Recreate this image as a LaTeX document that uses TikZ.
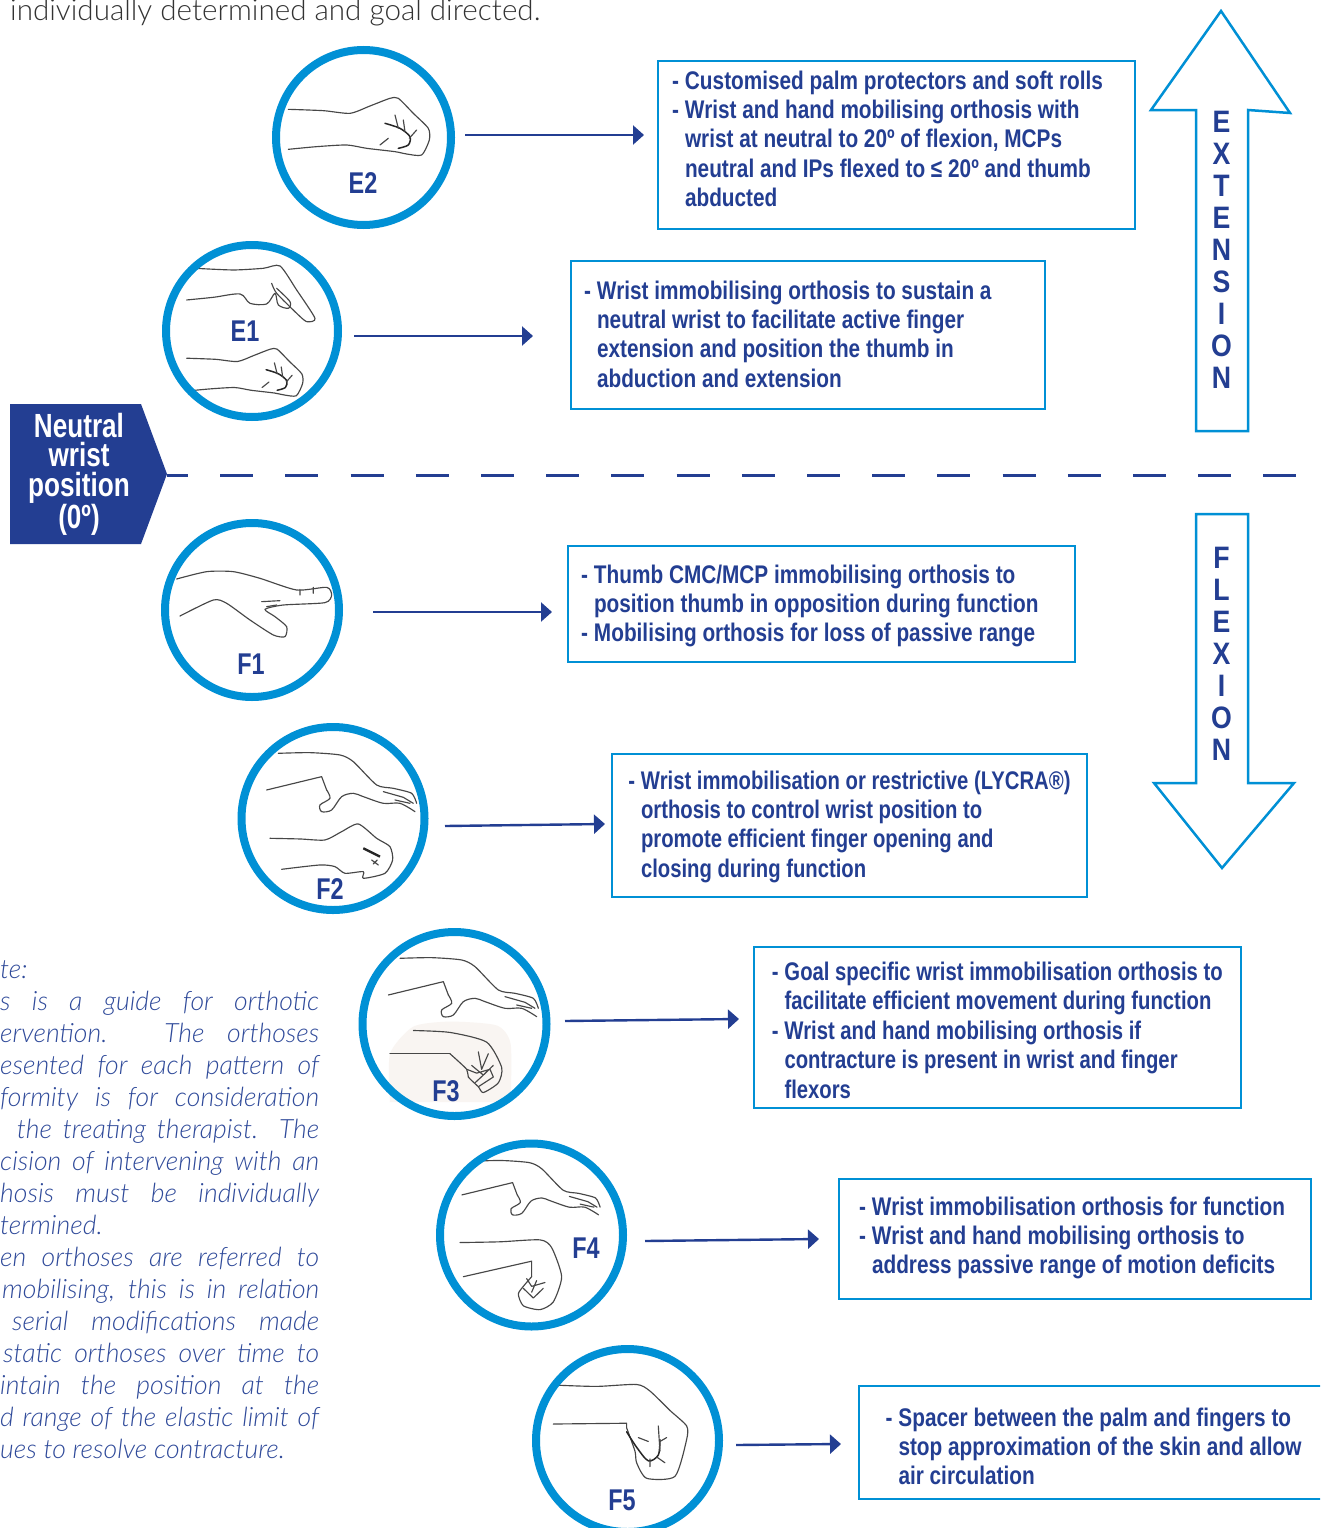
\documentclass[tikz,border=0pt]{standalone}
\usepackage{fontspec}
\usetikzlibrary{arrows.meta}
\newfontfamily\condf{Liberation Sans}[FakeStretch=0.815]
\newfontfamily\condg{Liberation Sans}[FakeStretch=0.795]
\newfontfamily\tagf{Liberation Sans}[FakeStretch=0.78]
\newfontfamily\letterf{Liberation Sans}[FakeStretch=0.86]
\newfontfamily\notef{Lato}[ItalicFont={Lato Light Italic},UprightFont={Lato Light}]
\definecolor{navy}{HTML}{233E92}
\definecolor{skyb}{HTML}{0090D5}
\definecolor{notec}{HTML}{2F4A9A}
\definecolor{patch}{HTML}{F9F5F2}
\newcommand{\dsh}{\llap{-\hspace{6pt}}}
\newcommand{\boxtext}[6]{\parbox[c][#2pt][t]{#1pt}{\vspace*{\dimexpr#3pt-20pt\relax}\leftskip=#4pt\relax\parindent=0pt\baselineskip=#5pt\relax\rule{0pt}{20pt}#6}}
\newcommand{\nl}[1]{\makebox[319pt][s]{#1}\\}
\tikzset{
  x=1pt,y=-1pt,
  obox/.style={draw=skyb,line width=2.5pt,rectangle,inner sep=0pt,outer sep=0pt,anchor=north west,text=navy,font=\condf\bfseries\fontsize{25.5}{29.4}\selectfont},
  oboxg/.style={obox,font=\condg\bfseries\fontsize{25.5}{29.4}\selectfont},
  ring/.style={circle,draw=skyb,line width=8pt,inner sep=0pt,outer sep=0pt,minimum size=#1},
  tag/.style={text=navy,inner sep=0pt,font=\tagf\bfseries\fontsize{30}{30}\selectfont},
  arr/.style={draw=navy,line width=2.4pt,-{Triangle[length=11pt,width=19pt]}},
  bigarrow/.style={draw=skyb,line width=2.5pt,fill=white,line join=miter},
  hl/.style={draw=black!72,line width=1.15pt,line cap=round,line join=round},
  hlt/.style={draw=black!85,line width=1.5pt,line cap=round,line join=round},
  zmA/.style={shift={(150,30)},scale=.3333},
  zmB/.style={shift={(150,510)},scale=.3333},
  zmC/.style={shift={(350,920)},xscale=.3333,yscale=.3877},
  fisthand/.pic={
    \draw[hl] plot[smooth,tension=.4] coordinates{(415,238)(520,242)(600,250)(660,228)(720,205)(745,205)(790,250)(835,295)(838,330)(815,375)(770,372)(735,365)(650,355)(590,345)(500,350)(415,358)};
    \draw[hlt] plot[smooth,tension=.5] coordinates{(705,280)(750,295)(780,320)(775,345)(745,355)};
    \draw[hl] (735,255)--(745,295) (800,300)--(778,325) (760,270)--(765,305) (690,345)--(715,325);
  },
  droophand/.pic={
    \draw[hl] plot[smooth,tension=.4] coordinates{(385,730)(480,728)(570,735)(610,755)(680,825)(730,835)(785,850)(800,880)};
    \draw[hl] (350,840)--(515,800)--(530,840);
    \draw[hl] plot[smooth,tension=.5] coordinates{(530,840)(540,865)(510,885)(515,905)(545,900)(575,860)(610,850)(640,860)(700,880)(750,880)(795,905)};
    \draw[hl] (700,845)--(760,862)--(790,880) (735,870)--(780,880);
  }
}
\begin{document}
\begin{tikzpicture}
\clip (0,0) rectangle (1320,1528);
\fill[white] (0,0) rectangle (1320,1528);

% header fragment
\node[anchor=base west,inner sep=0pt,text=black!80,font=\notef\fontsize{29.6}{30}\selectfont] (head) at (10,21) {individually determined and goal directed.};

% big side arrows
\draw[bigarrow] (1221,11)--(1290,113)--(1248,110)--(1248,431)--(1196,431)--(1196,110)--(1151,110)--cycle;
\draw[bigarrow] (1196,514)--(1248,514)--(1248,783)--(1294,783)--(1222,868)--(1154,783)--(1196,783)--cycle;
\node[anchor=north,align=center,inner sep=0pt,text=navy,font=\letterf\bfseries\fontsize{31}{32}\selectfont] (ext) at (1221.5,111) {E\\X\\T\\E\\N\\S\\I\\O\\N};
\node[anchor=north,align=center,inner sep=0pt,text=navy,font=\letterf\bfseries\fontsize{31}{32}\selectfont] (flx) at (1221.5,547) {F\\L\\E\\X\\I\\O\\N};

% neutral wrist marker
\fill[navy] (10,404)--(141,404)--(167,474)--(141,544)--(10,544)--cycle;
\node[align=center,inner sep=0pt,text=white,font=\tagf\bfseries\fontsize{33.5}{29.5}\selectfont] (neutral) at (79,474) {Neutral\\wrist\\position\\(0º)};
\coordinate (dashA) at (167,475.5);
\coordinate (dashB) at (1296,475.5);
\draw[navy,line width=2.3pt,dash pattern=on 33pt off 32.2pt,dash phase=12pt] (dashA)--(dashB);

% hands
\pic[shift={(150,30)},scale=.3333]{fisthand};
\pic[shift={(73,293)},scale=.274]{fisthand};
\pic[shift={(150,510)},scale=.3333]{droophand};
\pic[shift={(271.7,715)},scale=.3333]{droophand};
\pic[shift={(354.5,937)},scale=.307]{droophand};

% E1 upper hand
\begin{scope}[zmA]
\draw[hl] plot[smooth,tension=.4] coordinates{(135,715)(250,720)(340,715)(390,708)(440,780)(495,865)(470,875)(440,850)(380,790)(365,760)};
\draw[hl] plot[smooth,tension=.5] coordinates{(110,810)(190,802)(270,792)(300,820)(350,822)(375,790)(385,825)(415,835)(420,815)(380,775)};
\end{scope}

% F1 hand and F2 lower fist
\begin{scope}[zmB]
\draw[hl] plot[smooth,tension=.4] coordinates{(80,207)(170,185)(250,185)(330,205)(440,240)(530,232)(545,255)(525,278)(400,285)(345,298)(375,320)(410,350)(405,380)(370,375)(300,330)(230,280)(190,270)(90,318)};
\draw[hl] (335,275)--(390,272) (450,238)--(450,255) (490,232)--(490,250) (350,290)--(380,285);
\draw[hl] plot[smooth,tension=.4] coordinates{(360,985)(450,987)(525,990)(575,965)(625,942)(680,985)(720,1010)(728,1050)(705,1090)(640,1105)(640,1085)(585,1090)(555,1070)(510,1065)(395,1078)};
\draw[draw=black!85,line width=2.4pt] (640,1015)--(690,1040);
\draw[hl] (665,1050)--(685,1065) (670,1062)--(682,1050);
\end{scope}

% F3 lower, F4 lower and F5 hands
\begin{scope}[zmC]
\fill[patch] plot[smooth,tension=.4] coordinates{(120,470)(120,345)(190,275)(300,262)(440,272)(482,320)(482,470)};
\draw[hl] plot[smooth,tension=.4] coordinates{(190,285)(300,290)(410,315)(455,380)(445,420)(400,445)(385,430)(355,405)(350,385)(300,345)};
\draw[hl] (300,345)--(120,345);
\draw[hl] (350,385)--(380,395)--(420,385)--(430,405)--(385,430) (385,340)--(395,385)--(415,345) (365,375)--(400,400)--(430,375) (375,420)--(400,400);
\draw[hl] plot[smooth,tension=.4] coordinates{(330,832)(450,830)(570,825)(605,845)(635,920)(610,985)(570,1005)(520,995)(505,965)(520,945)(545,920)};
\draw[hl] (545,920)--(545,880)--(340,920);
\draw[hl] (530,925)--(545,945)--(585,935) (520,950)--(550,975)--(580,950) (545,960)--(560,930);
\draw[hl] plot[smooth,tension=.4] coordinates{(625,1200)(740,1203)(860,1198)(900,1215)(960,1265)(1010,1305)(1010,1340)(975,1435)(890,1440)(860,1400)(855,1370)(830,1310)};
\draw[hl] (830,1310)--(830,1298)--(610,1300);
\draw[hlt] plot[smooth,tension=.5] coordinates{(830,1320)(860,1360)(895,1395)(925,1380)(930,1340)};
\draw[hl] (925,1305)--(930,1370) (865,1335)--(895,1345) (900,1390)--(900,1410) (920,1385)--(945,1400) (930,1345)--(950,1335);
\end{scope}

% rings
\node[ring=175pt] (e2c) at (363.5,137.5) {};
\node[ring=172pt] (e1c) at (252,331) {};
\node[ring=174pt] (f1c) at (252,610) {};
\node[ring=183pt] (f2c) at (333,818.5) {};
\node[ring=184pt] (f3c) at (454.5,1024) {};
\node[ring=183pt] (f4c) at (531.5,1235) {};
\node[ring=183pt] (f5c) at (627.5,1440.5) {};

% ring labels
\node[tag] (e2t) at (363,183) {E2};
\node[tag] (e1t) at (245,331) {E1};
\node[tag] (f1t) at (251,664) {F1};
\node[tag] (f2t) at (330,889) {F2};
\node[tag] (f3t) at (446,1091) {F3};
\node[tag] (f4t) at (586,1248) {F4};
\node[tag] (f5t) at (622,1500) {F5};

% boxes
\node[obox] (b1) at (658,61) {\boxtext{477}{168}{28}{27}{29.4}{\dsh Customised palm protectors and soft rolls\\
\dsh Wrist and hand mobilising orthosis with\\
wrist at neutral to 20º of flexion, MCPs\\
neutral and IPs flexed to ≤ 20º and thumb\\
abducted}};
\node[obox] (b2) at (571,261) {\boxtext{474}{148}{38}{26}{29.4}{\dsh Wrist immobilising orthosis to sustain a\\
neutral wrist to facilitate active finger\\
extension and position the thumb in\\
abduction and extension}};
\node[obox] (b3) at (568,546) {\boxtext{507}{116}{37}{26}{29.4}{\dsh Thumb CMC/MCP immobilising orthosis to\\
position thumb in opposition during function\\
\dsh Mobilising orthosis for loss of passive range}};
\node[oboxg] (b4) at (612,754) {\boxtext{475}{143}{35}{29}{29.4}{\dsh Wrist immobilisation or restrictive (LYCRA®)\\
orthosis to control wrist position to\\
promote efficient finger opening and\\
closing during function}};
\node[oboxg] (b5) at (754,947) {\boxtext{487}{161}{33.5}{30.5}{29.4}{\dsh Goal specific wrist immobilisation orthosis to\\
facilitate efficient movement during function\\
\dsh Wrist and hand mobilising orthosis if\\
contracture is present in wrist and finger\\
flexors}};
\node[obox] (b6) at (839,1179) {\boxtext{472}{120}{36}{33}{29.4}{\dsh Wrist immobilisation orthosis for function\\
\dsh Wrist and hand mobilising orthosis to\\
address passive range of motion deficits}};
\node[obox] (b7) at (859,1386) {\boxtext{490}{113}{40}{39.5}{29}{\dsh Spacer between the palm and fingers to\\
stop approximation of the skin and allow\\
air circulation}};

% connectors
\draw[arr] ([shift={(14,-2.5)}]e2c.east)--([shift={(-14,-10)}]b1.west);
\draw[arr] ([shift={(16,5)}]e1c.east)--([shift={(-38,1)}]b2.west);
\draw[arr] ([shift={(34,2)}]f1c.east)--([shift={(-16,8)}]b3.west);
\draw[arr] ([shift={(20.5,7.5)}]f2c.east)--([shift={(-7,-1.5)}]b4.west);
\draw[arr] ([shift={(18.5,-3)}]f3c.east)--([shift={(-15,-8.5)}]b5.west);
\draw[arr] ([shift={(22,6)}]f4c.east)--([shift={(-20,0)}]b6.west);
\draw[arr] ([shift={(17,4.5)}]f5c.east)--([shift={(-18,1.5)}]b7.west);

% side note
\node[anchor=north west,inner sep=0pt,text=notec,align=left,font=\notef\itshape\fontsize{26.6}{32}\selectfont] (note) at (0,960) {te:\\
\nl{s is a guide for orthotic}
\nl{ervention. The orthoses}
\nl{esented for each pattern of}
\nl{formity is for consideration}
\nl{\hspace*{6pt} the treating therapist. The}
\nl{cision of intervening with an}
\nl{hosis must be individually}
termined.\\
\nl{en orthoses are referred to}
\nl{\hspace*{2pt}mobilising, this is in relation}
\nl{\hspace*{12pt}serial modifications made}
\nl{\hspace*{3pt}static orthoses over time to}
\nl{intain the position at the}
\nl{d range of the elastic limit of}
ues to resolve contracture.};
\end{tikzpicture}
\end{document}
